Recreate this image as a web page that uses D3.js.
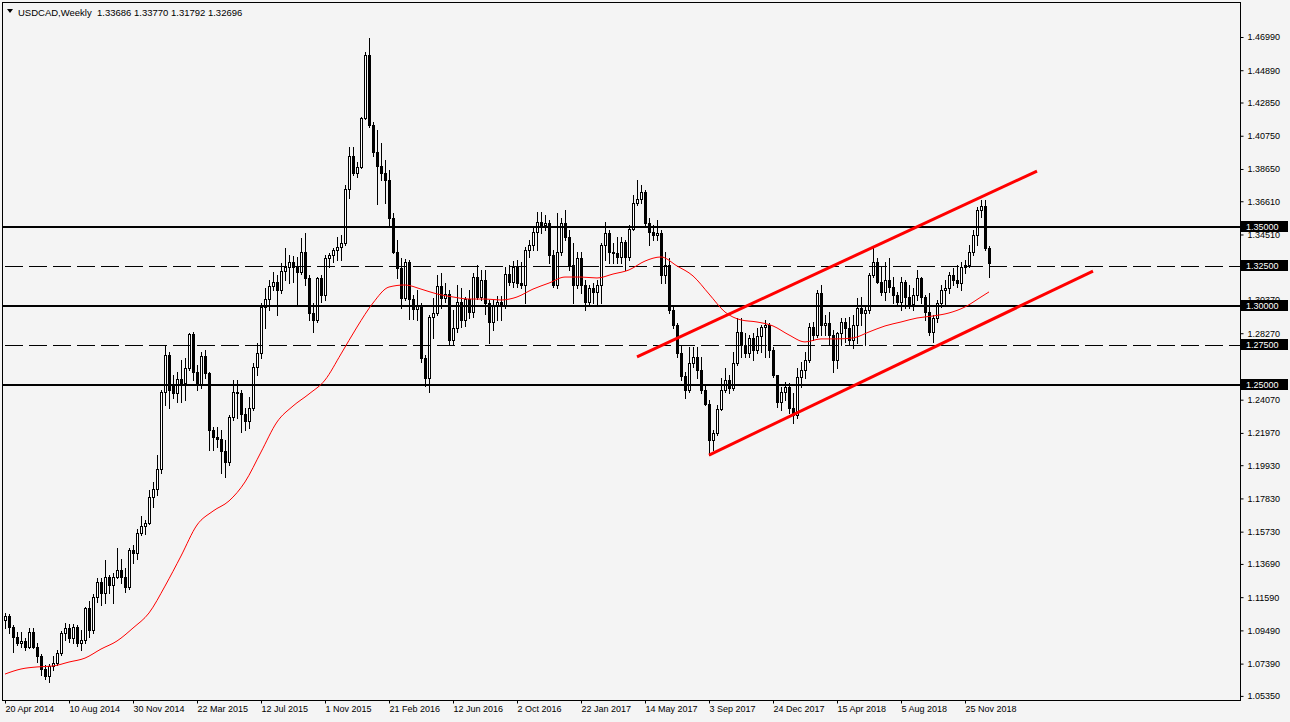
<!DOCTYPE html>
<html><head><meta charset="utf-8">
<script src="https://cdn.jsdelivr.net/npm/d3@7"></script>
<style>html,body{margin:0;padding:0;background:#f4f4f4;} svg{display:block;}</style>
</head><body><svg id="c" width="1290" height="722"></svg>
<script>
const symbolName = "USDCAD,Weekly";
const firstWeek = "20 Apr 2014";

const opens = [
1.1015,1.1040,1.0971,1.0907,1.0869,1.0882,1.0844,1.0938,1.0844,1.0787,
1.0705,1.0661,1.0724,1.0743,1.0806,1.0932,1.0964,1.0900,1.0971,1.0869,
1.0888,1.1091,1.0951,1.1160,1.1254,1.1185,1.1286,1.1236,1.1286,1.1331,
1.1286,1.1223,1.1457,1.1438,1.1564,1.1609,1.1628,1.1792,1.1842,1.1969,
1.2455,1.2690,1.2506,1.2449,1.2537,1.2512,1.2607,1.2822,1.2582,1.2506,
1.2683,1.2576,1.2215,1.2171,1.2158,1.2083,1.2013,1.2298,1.2455,1.2449,
1.2317,1.2272,1.2355,1.2614,1.2702,1.2993,1.3043,1.3126,1.3151,1.3100,
1.3221,1.3246,1.3277,1.3246,1.3214,1.3340,1.3176,1.2955,1.2911,1.3176,
1.3068,1.3302,1.3321,1.3353,1.3372,1.3397,1.3738,1.3947,1.3840,1.3878,
1.4188,1.4585,1.4143,1.3972,1.3884,1.3840,1.3795,1.3555,1.3340,1.3239,
1.3050,1.3277,1.3043,1.2980,1.3005,1.2671,1.2544,1.2930,1.2955,1.3126,
1.3050,1.3075,1.2784,1.2860,1.3024,1.2911,1.3043,1.2961,1.3182,1.3056,
1.3163,1.3018,1.2898,1.3005,1.3024,1.2999,1.3201,1.3151,1.3246,1.3144,
1.3131,1.3353,1.3385,1.3467,1.3530,1.3511,1.3524,1.3321,1.3131,1.3340,
1.3524,1.3435,1.3258,1.3131,1.3302,1.3131,1.3024,1.3113,1.3088,1.3131,
1.3385,1.3460,1.3340,1.3334,1.3309,1.3404,1.3309,1.3486,1.3650,1.3675,
1.3720,1.3524,1.3467,1.3448,1.3460,1.3195,1.3258,1.2974,1.2879,1.2702,
1.2557,1.2468,1.2639,1.2677,1.2595,1.2468,1.2380,1.2152,1.2196,1.2348,
1.2468,1.2531,1.2481,1.2639,1.2835,1.2753,1.2702,1.2797,1.2721,1.2809,
1.2866,1.2879,1.2721,1.2563,1.2392,1.2455,1.2487,1.2355,1.2310,1.2550,
1.2595,1.2658,1.2866,1.2816,1.3081,1.2879,1.2892,1.2816,1.2658,1.2828,
1.2898,1.2860,1.2784,1.2879,1.2987,1.2955,1.2974,1.3195,1.3277,1.3151,
1.3088,1.3163,1.3119,1.3069,1.3024,1.3151,1.3056,1.3012,1.3069,1.3176,
1.3056,1.2961,1.2835,1.2923,1.3018,1.3100,1.3113,1.3195,1.3163,1.3144,
1.3246,1.3258,1.3340,1.3448,1.3606,1.3631,1.33686];

const highs = [
1.1059,1.1053,1.0983,1.0938,1.0938,1.0900,1.0964,1.0964,1.0869,1.0800,
1.0730,1.0737,1.0787,1.0825,1.0945,1.0996,1.0990,1.0990,1.0983,1.0951,
1.1097,1.1135,1.1179,1.1280,1.1280,1.1394,1.1299,1.1312,1.1470,1.1400,
1.1343,1.1470,1.1489,1.1590,1.1672,1.1647,1.1836,1.1886,1.2057,1.2468,
1.2753,1.2708,1.2563,1.2582,1.2658,1.2671,1.2828,1.2834,1.2626,1.2708,
1.2721,1.2582,1.2234,1.2234,1.2215,1.2152,1.2310,1.2531,1.2531,1.2468,
1.2355,1.2424,1.2640,1.2765,1.3018,1.3113,1.3163,1.3214,1.3195,1.3271,
1.3366,1.3321,1.3315,1.3309,1.3429,1.3460,1.3195,1.3018,1.3182,1.3195,
1.3321,1.3334,1.3366,1.3435,1.3448,1.3764,1.4004,1.4004,1.3909,1.4194,
1.4604,1.4693,1.4162,1.4111,1.4029,1.3922,1.3859,1.3587,1.3416,1.3302,
1.3296,1.3290,1.3068,1.3100,1.3018,1.2690,1.2942,1.3050,1.3195,1.3208,
1.3144,1.3100,1.2974,1.3131,1.3113,1.3056,1.3100,1.3208,1.3258,1.3227,
1.3227,1.3037,1.3037,1.3062,1.3062,1.3246,1.3258,1.3284,1.3290,1.3277,
1.3372,1.3416,1.3492,1.3593,1.3593,1.3574,1.3543,1.3353,1.3587,1.3555,
1.3606,1.3479,1.3397,1.3340,1.3340,1.3163,1.3131,1.3144,1.3163,1.3397,
1.3530,1.3479,1.3397,1.3435,1.3435,1.3416,1.3511,1.3701,1.3795,1.3764,
1.3732,1.3555,1.3511,1.3543,1.3479,1.3340,1.3302,1.3005,1.2892,1.2753,
1.2582,1.2740,1.2740,1.2740,1.2677,1.2500,1.2405,1.2215,1.2374,1.2544,
1.2607,1.2563,1.2708,1.2923,1.2923,1.2828,1.2816,1.2828,1.2860,1.2879,
1.2911,1.2892,1.2740,1.2563,1.2487,1.2518,1.2512,1.2449,1.2607,1.2645,
1.2708,1.2892,1.2898,1.3100,1.3131,1.2942,1.2961,1.2847,1.2835,1.2923,
1.2923,1.2930,1.2942,1.3050,1.3056,1.3005,1.3208,1.3366,1.3302,1.3246,
1.3277,1.3302,1.3182,1.3088,1.3182,1.3163,1.3131,1.3113,1.3227,1.3182,
1.3069,1.3081,1.2942,1.3037,1.3131,1.3163,1.3214,1.3239,1.3258,1.3277,
1.3290,1.3385,1.3479,1.3625,1.3669,1.3669,1.33770];

const lows = [
1.0964,1.0932,1.0812,1.0856,1.0844,1.0825,1.0837,1.0837,1.0749,1.0667,
1.0642,1.0622,1.0699,1.0730,1.0793,1.0888,1.0875,1.0869,1.0850,1.0825,
1.0869,1.0907,1.0932,1.1128,1.1109,1.1122,1.1185,1.1122,1.1280,1.1248,
1.1191,1.1210,1.1375,1.1400,1.1552,1.1558,1.1621,1.1729,1.1805,1.1944,
1.2373,1.2355,1.2418,1.2392,1.2392,1.2405,1.2595,1.2531,1.2468,1.2481,
1.2544,1.2089,1.2089,1.2108,1.1944,1.1918,1.1994,1.2279,1.2291,1.2202,
1.2215,1.2228,1.2342,1.2563,1.2671,1.2860,1.2974,1.3100,1.2942,1.3081,
1.3163,1.3144,1.3150,1.3005,1.3201,1.3131,1.2911,1.2834,1.2898,1.3024,
1.3037,1.3246,1.3277,1.3290,1.3290,1.3385,1.3681,1.3827,1.3814,1.3871,
1.4181,1.4130,1.3947,1.3644,1.3795,1.3650,1.3511,1.3334,1.3176,1.2987,
1.3037,1.2917,1.2917,1.2911,1.2645,1.2493,1.2455,1.2797,1.2942,1.2987,
1.3024,1.2753,1.2753,1.2835,1.2866,1.2873,1.2923,1.2930,1.3043,1.3037,
1.2949,1.2765,1.2847,1.2911,1.2911,1.2987,1.3131,1.3119,1.3119,1.3113,
1.3018,1.3309,1.3353,1.3353,1.3460,1.3479,1.3271,1.3119,1.3113,1.3321,
1.3416,1.3227,1.3018,1.3113,1.3081,1.2974,1.3005,1.3018,1.3005,1.3018,
1.3290,1.3271,1.3271,1.3271,1.3271,1.3227,1.3290,1.3479,1.3637,1.3650,
1.3511,1.3385,1.3416,1.3416,1.3144,1.3144,1.2955,1.2860,1.2677,1.2531,
1.2418,1.2455,1.2614,1.2544,1.2449,1.2374,1.2057,1.2089,1.2184,1.2342,
1.2455,1.2449,1.2468,1.2626,1.2677,1.2677,1.2677,1.2658,1.2702,1.2708,
1.2677,1.2677,1.2550,1.2361,1.2342,1.2405,1.2323,1.2260,1.2291,1.2487,
1.2544,1.2645,1.2784,1.2803,1.2816,1.2816,1.2753,1.2582,1.2607,1.2753,
1.2772,1.2753,1.2734,1.2765,1.2879,1.2753,1.2955,1.3182,1.3144,1.3069,
1.3037,1.3088,1.3018,1.3005,1.2974,1.2987,1.2987,1.2974,1.3037,1.3018,
1.2911,1.2816,1.2772,1.2898,1.2993,1.3005,1.3081,1.3131,1.3119,1.3100,
1.3208,1.3246,1.3321,1.3385,1.3562,1.3355,1.31792];

const closes = [
1.1040,1.0971,1.0907,1.0869,1.0882,1.0844,1.0938,1.0844,1.0787,1.0705,
1.0661,1.0724,1.0743,1.0806,1.0932,1.0964,1.0900,1.0971,1.0869,1.0888,
1.1091,1.0951,1.1160,1.1254,1.1185,1.1286,1.1236,1.1286,1.1331,1.1286,
1.1223,1.1457,1.1438,1.1564,1.1609,1.1628,1.1792,1.1842,1.1969,1.2455,
1.2690,1.2468,1.2449,1.2537,1.2512,1.2607,1.2822,1.2582,1.2506,1.2683,
1.2576,1.2215,1.2171,1.2158,1.2083,1.2013,1.2298,1.2455,1.2449,1.2317,
1.2272,1.2355,1.2614,1.2702,1.2993,1.3043,1.3126,1.3151,1.3100,1.3221,
1.3246,1.3277,1.3246,1.3214,1.3340,1.3176,1.2955,1.2911,1.3176,1.3068,
1.3302,1.3321,1.3353,1.3372,1.3397,1.3738,1.3947,1.3840,1.3878,1.4188,
1.4585,1.4143,1.3972,1.3884,1.3840,1.3795,1.3555,1.3340,1.3239,1.3050,
1.3277,1.3043,1.2980,1.3005,1.2671,1.2544,1.2930,1.2955,1.3126,1.3050,
1.3075,1.2784,1.2860,1.3024,1.2911,1.3043,1.2961,1.3182,1.3056,1.3163,
1.3018,1.2898,1.3005,1.3024,1.2999,1.3201,1.3151,1.3246,1.3144,1.3131,
1.3353,1.3385,1.3467,1.3530,1.3511,1.3524,1.3321,1.3131,1.3340,1.3524,
1.3435,1.3258,1.3131,1.3302,1.3131,1.3024,1.3113,1.3088,1.3131,1.3385,
1.3460,1.3340,1.3334,1.3309,1.3404,1.3309,1.3486,1.3650,1.3675,1.3720,
1.3524,1.3467,1.3448,1.3460,1.3195,1.3258,1.2974,1.2879,1.2702,1.2557,
1.2468,1.2639,1.2677,1.2595,1.2468,1.2380,1.2152,1.2196,1.2348,1.2468,
1.2531,1.2481,1.2639,1.2835,1.2753,1.2702,1.2797,1.2721,1.2809,1.2866,
1.2879,1.2721,1.2563,1.2392,1.2455,1.2487,1.2355,1.2310,1.2550,1.2595,
1.2658,1.2866,1.2816,1.3081,1.2879,1.2892,1.2816,1.2658,1.2828,1.2898,
1.2860,1.2784,1.2879,1.2987,1.2955,1.2974,1.3195,1.3277,1.3151,1.3088,
1.3163,1.3119,1.3069,1.3024,1.3151,1.3056,1.3012,1.3069,1.3176,1.3056,
1.2961,1.2835,1.2923,1.3018,1.3100,1.3113,1.3195,1.3163,1.3144,1.3246,
1.3258,1.3340,1.3448,1.3606,1.3631,1.33686,1.32696];

// Moving average (red line) read at every 4th bar
const maBars = [0,4,8,12,16,20,24,28,32,36,40,44,48,52,56,60,64,68,72,76,80,84,88,92,96,100,
104,108,112,116,120,124,128,132,136,140,144,148,152,156,160,164,168,172,176,180,184,188,192,196,
200,204,208,212,216,220,224,228,232,236,240,244,246];
const maValues = [1.0673,1.0705,1.0718,1.0724,1.0749,1.0774,1.0831,1.0882,1.0964,1.1059,1.1229,1.1419,
1.1615,1.1703,1.1767,1.1887,1.2076,1.2266,1.2367,1.2443,1.2531,1.2696,1.2866,1.3018,1.3119,1.3132,
1.3106,1.3075,1.3056,1.3043,1.3043,1.3037,1.3056,1.3106,1.3144,1.3182,1.3182,1.3176,1.3201,1.3227,
1.3283,1.3309,1.3252,1.3189,1.3075,1.2961,1.2911,1.2898,1.2873,1.2816,1.2772,1.2791,1.2791,1.2797,
1.2835,1.2873,1.2898,1.2923,1.2936,1.2955,1.2993,1.3056,1.3088];

const priceTicks = [1.46990,1.44890,1.42850,1.40750,1.38650,1.36610,1.34510,1.30370,1.28270,
1.24070,1.21970,1.19930,1.17830,1.15730,1.13690,1.11590,1.09490,1.07390,1.05350];
const timeTickLabels = ["20 Apr 2014","10 Aug 2014","30 Nov 2014","22 Mar 2015","12 Jul 2015","1 Nov 2015",
"21 Feb 2016","12 Jun 2016","2 Oct 2016","22 Jan 2017","14 May 2017","3 Sep 2017","24 Dec 2017",
"15 Apr 2018","5 Aug 2018","25 Nov 2018"];

const solidLevels = [1.35000, 1.30000, 1.25000];
const dashedLevels = [1.32500, 1.27500];

// channel trend lines: [bar, price] end points
const trendStartBars = [158, 176];
const trendStartPrices = [1.2677, 1.2057];
const trendEndBars = [258, 272];
const trendEndPrices = [1.3852, 1.3220];

// ---------- drawing ----------
const W = 1290, H = 722;
const plotRight = 1240, plotBottom = 700;
const FONT = "'Liberation Sans', Arial, sans-serif";
const svg = d3.select("#c");
svg.append("rect").attr("width", W).attr("height", H).attr("fill", "#f4f4f4");

const x = d3.scaleLinear().domain([0, 246]).range([5, 989]);
const y = d3.scaleLinear().domain([1.05350, 1.46990]).range([695.9, 37]);

svg.append("defs").append("clipPath").attr("id", "plot")
  .append("rect").attr("x", 3).attr("y", 3).attr("width", plotRight - 3).attr("height", plotBottom - 3);

const plot = svg.append("g").attr("clip-path", "url(#plot)");

const bars = d3.range(closes.length).map(i => ({i, o: opens[i], h: highs[i], l: lows[i], c: closes[i]}));

// candles
const cg = plot.append("g").attr("shape-rendering", "crispEdges");
bars.forEach(d => {
  const cx = Math.round(x(d.i));
  const yh = Math.round(y(d.h)), yl = Math.round(y(d.l));
  cg.append("rect").attr("x", cx).attr("y", yh).attr("width", 1).attr("height", Math.max(1, yl - yh + 1)).attr("fill", "#000");
  const top = Math.round(y(Math.max(d.o, d.c))), bot = Math.round(y(Math.min(d.o, d.c)));
  cg.append("rect").attr("x", cx - 1).attr("y", top).attr("width", 3).attr("height", Math.max(1, bot - top + 1)).attr("fill", "#000");
  if (d.c > d.o && bot - top > 1) {
    cg.append("rect").attr("x", cx).attr("y", top + 1).attr("width", 1).attr("height", bot - top - 1).attr("fill", "#fff");
  }
});

// horizontal levels
const lg = plot.append("g").attr("shape-rendering", "crispEdges");
solidLevels.forEach(v => {
  const yy = Math.round(y(v));
  lg.append("rect").attr("x", 3).attr("y", yy - 1).attr("width", plotRight - 3).attr("height", 2).attr("fill", "#000");
});
dashedLevels.forEach(v => {
  const yy = Math.round(y(v)) + 0.5;
  lg.append("line").attr("x1", 5).attr("x2", plotRight).attr("y1", yy).attr("y2", yy)
    .attr("stroke", "#000").attr("stroke-width", 1).attr("stroke-dasharray", "18,6");
});

// moving average
plot.append("path")
  .datum(maBars.map((b, k) => [b, maValues[k]]))
  .attr("fill", "none").attr("stroke", "#ff0000").attr("stroke-width", 1)
  .attr("d", d3.line().x(d => x(d[0])).y(d => y(d[1])).curve(d3.curveMonotoneX));

// trend lines
trendStartBars.forEach((b, k) => {
  plot.append("line")
    .attr("x1", x(b)).attr("y1", y(trendStartPrices[k]))
    .attr("x2", x(trendEndBars[k])).attr("y2", y(trendEndPrices[k]))
    .attr("stroke", "#ff0000").attr("stroke-width", 3);
});

// frame
svg.append("rect").attr("x", 2.5).attr("y", 2.5).attr("width", plotRight - 2).attr("height", plotBottom - 2)
  .attr("fill", "none").attr("stroke", "#000").attr("stroke-width", 1).attr("shape-rendering", "crispEdges");

// price axis
const pa = svg.append("g").attr("transform", `translate(${plotRight + 0.5},0)`)
  .call(d3.axisRight(y).tickValues(priceTicks).tickFormat(d3.format(".5f")).tickSize(3).tickPadding(4));
pa.select(".domain").remove();
pa.selectAll("text").attr("font-family", FONT).attr("font-size", 9).attr("fill", "#000");
pa.selectAll("line").attr("stroke", "#000");

// level labels
const lab = svg.append("g");
solidLevels.concat(dashedLevels).forEach(v => {
  const yy = Math.round(y(v));
  lab.append("rect").attr("x", plotRight + 1).attr("y", yy - 6).attr("width", 47).attr("height", 11).attr("fill", "#000");
  lab.append("text").attr("x", plotRight + 6).attr("y", yy + 3).attr("font-family", FONT).attr("font-size", 9)
    .attr("fill", "#fff").text(d3.format(".5f")(v));
});

// time axis
const parse = d3.timeParse("%d %b %Y");
const t0 = parse(firstWeek);
const tickBars = timeTickLabels.map(s => Math.round((parse(s) - t0) / 6048e5));
const ta = svg.append("g").attr("transform", `translate(0,${plotBottom + 0.5})`)
  .call(d3.axisBottom(x).tickValues(tickBars).tickFormat((d, k) => timeTickLabels[k]).tickSize(3).tickPadding(2));
ta.select(".domain").remove();
ta.selectAll("text").attr("font-family", FONT).attr("font-size", 9).attr("fill", "#000").attr("text-anchor", "start");
ta.selectAll("line").attr("stroke", "#000");

// header
const last = closes.length - 1;
svg.append("path").attr("d", "M7,9 L13,9 L10,13 Z").attr("fill", "#000");
svg.append("text").attr("x", 18).attr("y", 16).attr("font-family", FONT).attr("font-size", 9.5).attr("fill", "#000")
  .attr("xml:space", "preserve")
  .text(`${symbolName}  ${d3.format(".5f")(opens[last])} ${d3.format(".5f")(highs[last])} ${d3.format(".5f")(lows[last])} ${d3.format(".5f")(closes[last])}`);
</script>
</body></html>
